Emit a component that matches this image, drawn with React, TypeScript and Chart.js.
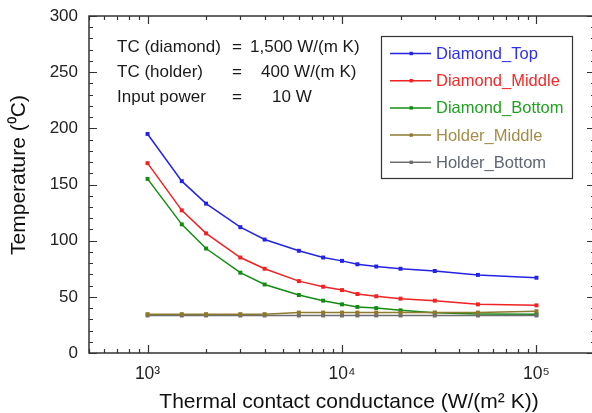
import React, { useEffect, useRef } from "react";
import { Chart, registerables } from "chart.js";

Chart.register(...registerables);

const X_VALUES = [1000, 1500, 2000, 3000, 4000, 6000, 8000, 10000, 12000, 15000, 20000, 30000, 50000, 100000];
const DIAMOND_TOP = [195, 153, 133, 112, 101, 91, 85, 82, 79, 77, 75, 73, 69.5, 67];
const DIAMOND_MIDDLE = [169, 127, 106.5, 85, 75, 64, 59, 56, 52.5, 50.5, 48.4, 46.6, 43.3, 42.4];
const DIAMOND_BOTTOM = [155, 114.5, 93, 71.5, 61, 51.6, 46.6, 43.3, 41, 40, 38, 35.8, 34.8, 34.5];
const HOLDER_MIDDLE = [34.6, 34.6, 34.6, 34.6, 34.6, 36, 36, 36, 36, 36, 36, 36, 36, 37.2];
const HOLDER_BOTTOM = [33.4, 33.4, 33.4, 33.4, 33.4, 33.4, 33.4, 33.4, 33.4, 33.4, 33.4, 33.4, 33.4, 33.4];

const SERIES_NAMES = ["Diamond_Top", "Diamond_Middle", "Diamond_Bottom", "Holder_Middle", "Holder_Bottom"];
const SERIES_COLORS = ["#2323e6", "#f02222", "#148c14", "#8e7a2e", "#6e6e6e"];
const TEXT_COLORS = ["#2f2fee", "#f22a2a", "#22a022", "#a48c48", "#5f6674"];

const X_TICK_VALUES = [1000, 10000, 100000];
const X_TICK_LABELS = ["10³", "10⁴", "10⁵"];
const Y_TICK_STEP = 50;

const ANNOTATION_LEFT = ["TC (diamond)", "TC (holder)", "Input power"];
const ANNOTATION_RIGHT = ["1,500 W/(m K)", "400 W/(m K)", "10 W"];

const X_TITLE = "Thermal contact conductance (W/(m² K))";
const Y_TITLE = "Temperature (⁰C)";

const FONT = '"Liberation Sans", Arial, sans-serif';

const framePlugin = {
  id: "framePlugin",
  afterDraw(chart: any) {
    const { ctx, chartArea } = chart;
    const { left, right, top, bottom } = chartArea;
    const xs = chart.scales.x;
    const ys = chart.scales.y;
    ctx.save();
    ctx.strokeStyle = "#333";
    ctx.lineWidth = 1.5;
    ctx.strokeRect(left, top, right - left, bottom - top);

    ctx.lineWidth = 1.2;
    ctx.beginPath();
    for (let v = 0; v <= 300; v += 10) {
      const y = Math.round(ys.getPixelForValue(v)) + 0.5;
      const len = v % 50 === 0 ? 8 : 4;
      ctx.moveTo(left, y);
      ctx.lineTo(left + len, y);
      ctx.moveTo(right, y);
      ctx.lineTo(right - len, y);
    }
    for (let e = 2; e <= 5; e++) {
      for (let k = 1; k <= 9; k++) {
        const v = k * Math.pow(10, e);
        if (v < 500 || v > 200000) continue;
        const x = Math.round(xs.getPixelForValue(v)) + 0.5;
        const len = k === 1 ? 8 : 4;
        ctx.moveTo(x, bottom);
        ctx.lineTo(x, bottom - len);
        ctx.moveTo(x, top);
        ctx.lineTo(x, top + len);
      }
    }
    ctx.stroke();

    // annotations
    ctx.fillStyle = "#1a1a1a";
    ctx.font = `17px ${FONT}`;
    ctx.textBaseline = "alphabetic";
    ctx.textAlign = "left";
    const rightX = [250, 261, 272];
    for (let i = 0; i < 3; i++) {
      const by = 52 + i * 25;
      ctx.fillText(ANNOTATION_LEFT[i], 117, by);
      ctx.fillText("=", 232, by);
      ctx.fillText(ANNOTATION_RIGHT[i], rightX[i], by);
    }

    // legend box
    ctx.strokeStyle = "#333";
    ctx.lineWidth = 1.2;
    ctx.strokeRect(381.5, 36.5, 191, 142);
    ctx.font = `16.5px ${FONT}`;
    ctx.textBaseline = "middle";
    for (let i = 0; i < SERIES_NAMES.length; i++) {
      const y = 53.5 + i * 27.2;
      ctx.strokeStyle = SERIES_COLORS[i];
      ctx.lineWidth = 1.5;
      ctx.beginPath();
      ctx.moveTo(390, y);
      ctx.lineTo(431, y);
      ctx.stroke();
      ctx.fillStyle = SERIES_COLORS[i];
      ctx.fillRect(409.5, y - 1.7, 3.4, 3.4);
      ctx.fillStyle = TEXT_COLORS[i];
      ctx.fillText(SERIES_NAMES[i], 436, y + 1);
    }

    // axis titles
    ctx.fillStyle = "#111";
    ctx.font = `21px ${FONT}`;
    ctx.textAlign = "center";
    ctx.textBaseline = "alphabetic";
    ctx.fillText(X_TITLE, 349, 408);
    ctx.save();
    ctx.translate(25, 175);
    ctx.rotate(-Math.PI / 2);
    ctx.fillText(Y_TITLE, 0, 0);
    ctx.restore();

    ctx.restore();
  },
};

const zeroPadding = (scale: any) => {
  scale.paddingTop = 0;
  scale.paddingBottom = 0;
  scale.paddingLeft = 0;
  scale.paddingRight = 0;
};

export default function App() {
  const ref = useRef<HTMLCanvasElement | null>(null);

  useEffect(() => {
    if (!ref.current) return;
    const series = [DIAMOND_TOP, DIAMOND_MIDDLE, DIAMOND_BOTTOM, HOLDER_MIDDLE, HOLDER_BOTTOM];
    const orders = [4, 3, 2, 0, 1];
    const chart = new Chart(ref.current, {
      type: "line",
      data: {
        datasets: series.map((s, i) => ({
          label: SERIES_NAMES[i],
          data: X_VALUES.map((x, j) => ({ x, y: s[j] })),
          borderColor: SERIES_COLORS[i],
          backgroundColor: SERIES_COLORS[i],
          borderWidth: 1.5,
          pointStyle: "rect",
          pointRadius: 2.8,
          pointBorderWidth: 0,
          pointBackgroundColor: SERIES_COLORS[i],
          tension: 0,
          fill: false,
          order: orders[i],
        })),
      },
      options: {
        animation: false,
        responsive: false,
        devicePixelRatio: 1,
        layout: { padding: { left: 0, right: 5, top: 16, bottom: 0 } },
        plugins: {
          legend: { display: false },
          tooltip: { enabled: false },
        },
        scales: {
          x: {
            type: "logarithmic",
            min: 500,
            max: 200000,
            position: "bottom",
            grid: { display: false, drawTicks: false },
            border: { display: false },
            afterBuildTicks: (scale: any) => {
              scale.ticks = X_TICK_VALUES.map((v) => ({ value: v }));
            },
            afterFit: (scale: any) => {
              scale.height = 60;
              zeroPadding(scale);
            },
            ticks: {
              autoSkip: false,
              maxRotation: 0,
              padding: 11,
              color: "#222",
              font: { family: FONT, size: 17.5 },
              callback: (value: any) => {
                const idx = X_TICK_VALUES.indexOf(Number(value));
                return idx >= 0 ? X_TICK_LABELS[idx] : "";
              },
            },
          },
          y: {
            type: "linear",
            min: 0,
            max: 300,
            grid: { display: false, drawTicks: false },
            border: { display: false },
            afterFit: (scale: any) => {
              scale.width = 89;
              zeroPadding(scale);
            },
            ticks: {
              stepSize: Y_TICK_STEP,
              padding: 11,
              color: "#222",
              font: { family: FONT, size: 17 },
            },
          },
        },
      },
      plugins: [framePlugin],
    } as any);
    return () => chart.destroy();
  }, []);

  return (
    <div
      style={{
        position: "fixed",
        left: 0,
        top: 0,
        width: 592,
        height: 413,
        overflow: "hidden",
        background: "#fff",
      }}
    >
      <canvas ref={ref} width={600} height={413} style={{ display: "block" }} />
    </div>
  );
}
